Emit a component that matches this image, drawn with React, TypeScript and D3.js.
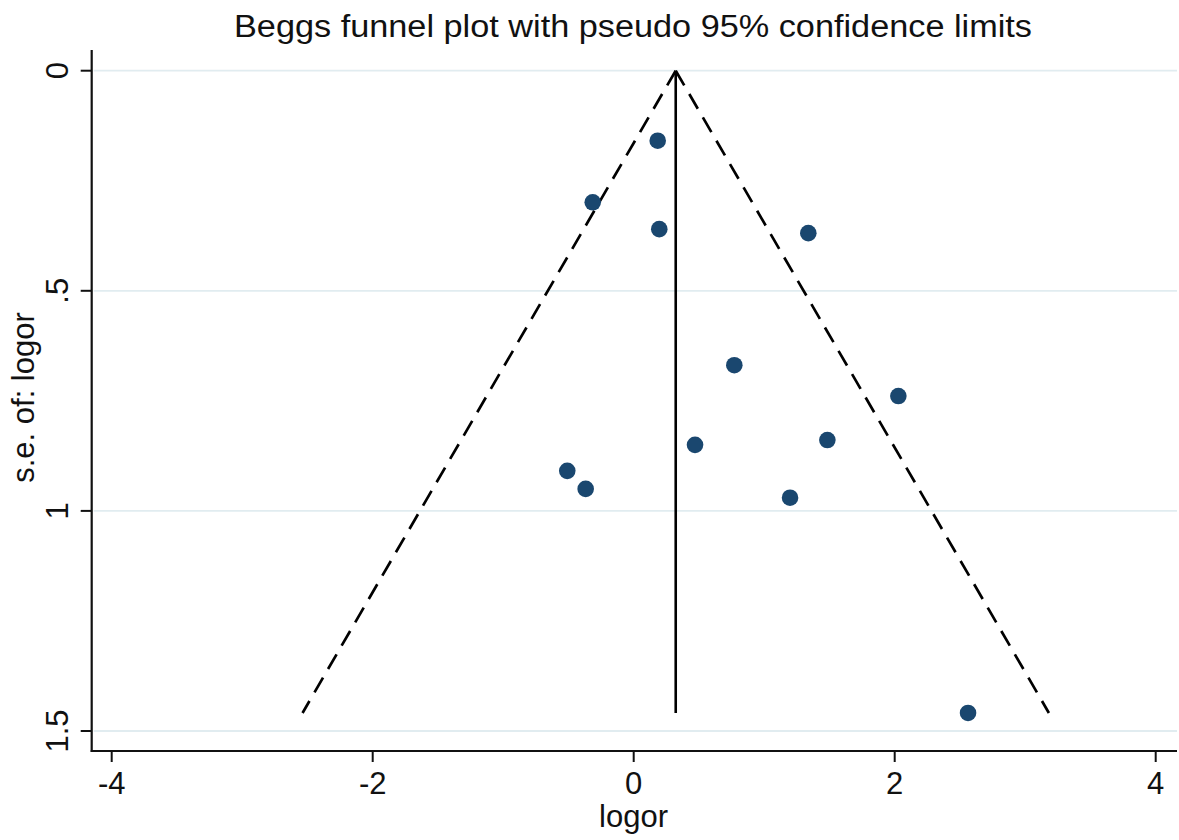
import React from "react";
import * as d3 from "d3";

// ---- data ----
const logor: number[] = [0.184, -0.314, 0.196, 1.338, 0.771, 2.028, 0.47, 1.484, -0.509, -0.368, 1.198, 2.562];
const seLogor: number[] = [0.159, 0.299, 0.36, 0.369, 0.669, 0.739, 0.85, 0.839, 0.909, 0.95, 0.97, 1.459];
const pooled = 0.322;
const z95 = 1.96;
const xTicks: number[] = [-4, -2, 0, 2, 4];
const yTicks: number[] = [0, 0.5, 1, 1.5];
const yTickLabels: string[] = ["0", ".5", "1", "1.5"];
const title = "Beggs funnel plot with pseudo 95% confidence limits";
const xTitle = "logor";
const yTitle = "s.e. of: logor";

const W = 1179;
const H = 840;
const FONT = "'Liberation Sans', Arial, Helvetica, sans-serif";

if (typeof document !== "undefined") {
  document.body.style.margin = "0";
}

export default function App() {
  const x = d3.scaleLinear().domain([-4, 4]).range([111.7, 1155.7]);
  const y = d3.scaleLinear().domain([0, 1.5]).range([70.7, 731]);

  const plotLeft = 91.7;
  const plotRight = 1177;
  const plotTop = 50;
  const plotBottom = 751;

  const seMax = d3.max(seLogor) as number;
  const line = d3
    .line<[number, number]>()
    .x((d) => x(d[0]))
    .y((d) => y(d[1]));
  const leftLimit = line([
    [pooled, 0],
    [pooled - z95 * seMax, seMax],
  ]) as string;
  const rightLimit = line([
    [pooled, 0],
    [pooled + z95 * seMax, seMax],
  ]) as string;
  const center = line([
    [pooled, 0],
    [pooled, seMax],
  ]) as string;

  return (
    <svg width={W} height={H} style={{ display: "block", background: "#fff" }} fontFamily={FONT}>
      <rect x={0} y={0} width={W} height={H} fill="#fff" />
      {/* title */}
      <text x={633} y={37} textAnchor="middle" fontSize={31} textLength={798} lengthAdjust="spacingAndGlyphs" fill="#111">
        {title}
      </text>

      {/* gridlines */}
      {yTicks.map((t) => (
        <line key={"g" + t} x1={plotLeft + 2} x2={plotRight} y1={y(t)} y2={y(t)} stroke="#e1ecf0" strokeWidth={1.8} />
      ))}

      {/* funnel */}
      <path d={leftLimit} fill="none" stroke="#000" strokeWidth={2.7} strokeDasharray="17 10" />
      <path d={rightLimit} fill="none" stroke="#000" strokeWidth={2.7} strokeDasharray="17 10" />
      <path d={center} fill="none" stroke="#000" strokeWidth={2.6} />

      {/* points */}
      {logor.map((v, i) => (
        <circle key={"p" + i} cx={x(v)} cy={y(seLogor[i])} r={8.3} fill="#1a476f" />
      ))}

      {/* axes */}
      <line x1={plotLeft} x2={plotLeft} y1={plotTop} y2={plotBottom + 1} stroke="#111" strokeWidth={2.2} />
      <line x1={plotLeft - 1} x2={plotRight} y1={plotBottom} y2={plotBottom} stroke="#111" strokeWidth={2.2} />

      {xTicks.map((t) => (
        <g key={"x" + t}>
          <line x1={x(t)} x2={x(t)} y1={plotBottom} y2={plotBottom + 11} stroke="#111" strokeWidth={2} />
          <text x={x(t)} y={794} textAnchor="middle" fontSize={31} fill="#111">
            {t}
          </text>
        </g>
      ))}

      {yTicks.map((t, i) => (
        <g key={"y" + t}>
          <line x1={plotLeft - 11} x2={plotLeft} y1={y(t)} y2={y(t)} stroke="#111" strokeWidth={2} />
          <text
            transform={`translate(68,${y(t)}) rotate(-90)`}
            textAnchor="middle"
            fontSize={31}
            fill="#111"
          >
            {yTickLabels[i]}
          </text>
        </g>
      ))}

      <text x={633.5} y={827} textAnchor="middle" fontSize={31} fill="#111">
        {xTitle}
      </text>
      <text transform={`translate(34,397.5) rotate(-90)`} textAnchor="middle" fontSize={31} fill="#111">
        {yTitle}
      </text>
    </svg>
  );
}
